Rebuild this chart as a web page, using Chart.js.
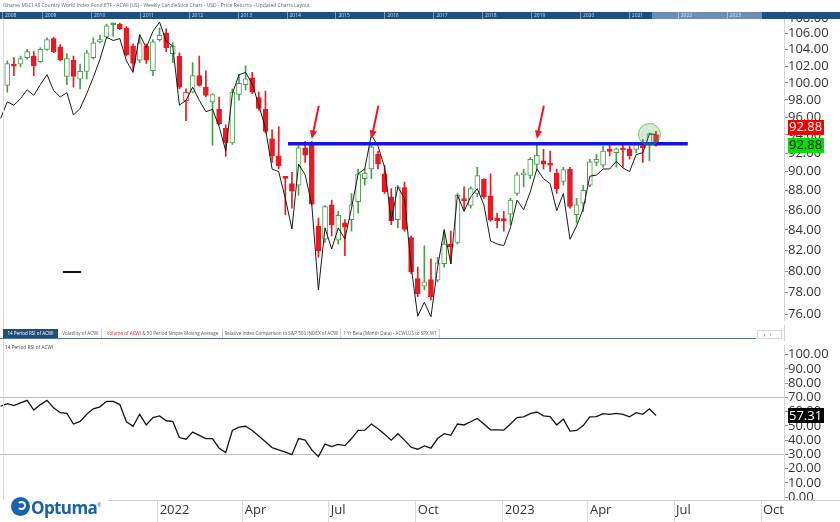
<!DOCTYPE html>
<html>
<head>
<meta charset="utf-8">
<script src="https://cdn.jsdelivr.net/npm/chart.js@4.4.0/dist/chart.umd.min.js"></script>
<style>
  body { margin: 0; background: #fff; font-family: "Open Sans", sans-serif; }
  #wrap { position: relative; width: 840px; height: 522px; overflow: hidden; background: #fff; }
  canvas { position: absolute; left: 0; }
  .abs { position: absolute; white-space: nowrap; }
  #title { left: 3px; top: 1px; font-size: 5px; line-height: 8px; color: #666; }
  #strip { left: 0; top: 12px; width: 840px; height: 7px; background: #1f4f80; }
  #strip .hl { position: absolute; left: 652px; top: 0; width: 110px; height: 7px; background: #6d8fb6; }
  #strip .yr { position: absolute; top: 0; height: 7px; font-size: 5px; line-height: 7px; color: #d5deea;
               border-left: 1px solid rgba(255,255,255,0.45); padding-left: 2px; }
  .tab { position: absolute; top: 329px; height: 9px; font-size: 4.6px; line-height: 9px; color: #555;
         text-align: center; border-right: 1px solid #d0d0d0; }
  .tab.active { background: #1f4e79; color: #fff; border-right: none; }
  #tabline { left: 0; top: 338px; width: 756px; height: 1px; background: #4f75a0; }
  #rsiTitle { left: 5px; top: 344px; font-size: 4.8px; line-height: 6px; color: #444; }
  #nav { left: 757px; top: 330px; width: 25px; height: 9px; border: 1px solid #d8d8d8; box-sizing: border-box;
         font-size: 7px; line-height: 7px; color: #777; text-align: center; letter-spacing: 4px; }
  #logo { left: 0; top: 500px; width: 108px; height: 22px; background: #fff; }
  #logo .icon { position: absolute; left: 11px; top: -3px; width: 19px; height: 19px; border-radius: 50%; background: #1a62ad; }
  #logo .icon::after { content: ""; position: absolute; left: 6px; top: 4px; width: 9px; height: 9px; border-radius: 50%;
                       border: 2.5px solid #fff; border-left-color: transparent; box-sizing: border-box; }
  #logo .txt { position: absolute; left: 31px; top: -4px; font-size: 17px; font-weight: 700; color: #1a62ad; letter-spacing: -0.6px; }
  #logo .txt sup { font-size: 5px; font-weight: 400; }
  #dash { left: 63px; top: 271px; width: 18px; height: 2px; background: #111; }
  #leftline { left: 3px; top: 20px; width: 1px; height: 480px; background: #dcdcdc; }
  #axisgap { left: 784px; top: 325px; width: 1px; height: 16px; background: #d4d4d4; }
</style>
</head>
<body>
<div id="wrap">
  <canvas id="price" width="840" height="328" style="top:0"></canvas>
  <canvas id="rsi" width="840" height="184" style="top:338px"></canvas>

  <div id="leftline" class="abs"></div>
  <div id="axisgap" class="abs"></div>
  <div id="title" class="abs">iShares MSCI All Country World Index Fund ETF - ACWI (US) - Weekly CandleStick Chart - USD - Price Returns - Updated Charts Layout</div>
  <div id="strip" class="abs"><div class="hl"></div></div>
  <div id="dash" class="abs"></div>

  <div class="tab active" style="left:3px;width:55px">14 Period RSI of ACWI</div>
  <div class="tab" style="left:60px;width:41px">Volatility of ACWI</div>
  <div class="tab" style="left:103px;width:119px"><span style="color:#e0202a">Volume of ACWI</span> &amp; 50 Period Simple Moving Average</div>
  <div class="tab" style="left:223px;width:117px">Relative Index Comparison to S&amp;P 500 INDEX of ACWI</div>
  <div class="tab" style="left:341px;width:98px">1 Yr Beta (Month Data) - ACWI.US to SPX.W1</div>
  <div id="tabline" class="abs"></div>
  <div id="nav" class="abs">‹›</div>
  <div id="rsiTitle" class="abs">14 Period RSI of ACWI</div>

  <div id="logo" class="abs"><div class="icon"></div><div class="txt">Optuma<sup>®</sup></div></div>
</div>

<script>
// weekly candles, first bar = week of 26 Jul 2021
const weekOne = '2021-07-26';

const opens = [99.68, 102.07, 102.23, 103.03, 103.23, 102.55, 104.04, 105.38, 104.36, 100.77,
  102.71, 100.42, 101.36, 103.03, 104.97, 105.59, 107.30, 107.20, 106.70, 104.44,
  102.71, 104.44, 101.44, 105.26, 106.08, 103.51, 103.23, 97.88, 98.91, 100.85,
  99.48, 97.76, 96.90, 94.76, 93.13, 98.64, 99.79, 100.58, 98.26, 96.90,
  93.56, 91.70, 89.36, 88.73, 88.56, 92.59, 92.95, 84.37, 83.07, 86.52,
  82.97, 84.70, 85.03, 86.86, 89.25, 90.29, 91.88, 89.77, 87.36, 85.03,
  88.32, 83.23, 79.29, 78.58, 79.20, 79.13, 80.69, 82.59, 82.75, 87.09,
  86.46, 87.70, 89.18, 87.46, 85.19, 85.12, 85.59, 87.70, 89.66, 89.59,
  90.78, 91.17, 90.92, 89.84, 88.97, 90.29, 85.52, 86.69, 88.56, 90.99,
  90.71, 92.45, 92.05, 92.48, 92.48, 92.41, 92.84, 92.95, 94.04];
const highs = [102.63, 103.03, 103.23, 104.04, 103.76, 104.24, 105.47, 105.55, 104.65, 103.51,
  103.23, 102.23, 103.92, 105.47, 105.79, 107.20, 107.37, 107.33, 106.90, 104.73,
  105.88, 104.73, 105.26, 106.70, 106.62, 104.85, 103.63, 99.29, 102.43, 103.23,
  101.44, 98.72, 98.33, 95.13, 99.29, 101.05, 102.03, 101.24, 98.91, 99.02,
  94.58, 94.95, 89.42, 89.94, 92.84, 93.31, 93.31, 85.19, 86.45, 87.02,
  85.86, 85.03, 87.70, 90.29, 90.29, 92.95, 92.23, 90.64, 88.21, 88.56,
  88.90, 83.39, 80.37, 82.43, 81.16, 81.32, 83.88, 83.88, 87.70, 88.39,
  88.39, 90.47, 89.25, 89.77, 85.69, 85.86, 87.19, 89.94, 90.29, 91.52,
  92.95, 92.41, 92.23, 90.29, 90.47, 90.47, 87.19, 88.56, 91.34, 91.88,
  92.77, 92.95, 92.59, 92.95, 92.77, 93.13, 93.49, 94.22, 94.40];
const lows = [98.91, 100.85, 101.91, 102.83, 100.85, 102.45, 103.92, 103.63, 102.63, 99.79,
  99.48, 99.29, 100.46, 102.83, 104.85, 105.38, 105.67, 106.50, 103.23, 101.44,
  102.43, 102.31, 100.85, 105.05, 103.76, 102.43, 99.29, 95.62, 98.80, 99.60,
  98.33, 92.84, 95.13, 91.63, 92.95, 97.95, 99.17, 98.72, 96.82, 94.22,
  90.99, 90.29, 85.52, 86.19, 87.53, 90.99, 86.50, 81.32, 82.75, 83.39,
  82.59, 81.48, 83.88, 85.69, 88.56, 89.25, 90.29, 87.70, 84.53, 84.20,
  83.88, 79.75, 77.61, 78.22, 77.31, 78.98, 80.37, 80.69, 82.59, 86.02,
  86.19, 87.36, 87.19, 84.86, 84.20, 83.88, 84.53, 87.53, 88.39, 89.25,
  90.29, 90.29, 90.01, 87.70, 88.56, 86.19, 84.70, 85.86, 88.39, 90.64,
  90.47, 91.70, 90.47, 90.47, 91.34, 92.05, 90.99, 91.17, 92.77];
const closes = [102.31, 101.99, 102.91, 103.76, 102.03, 104.04, 105.26, 103.76, 102.75, 102.91,
  100.77, 101.36, 103.63, 104.85, 105.26, 106.99, 107.12, 106.62, 103.35, 102.31,
  104.85, 102.71, 104.97, 105.79, 104.24, 104.44, 99.48, 98.91, 100.85, 99.68,
  98.52, 98.60, 95.25, 93.13, 98.91, 99.95, 100.46, 98.91, 97.01, 94.40,
  91.70, 90.64, 89.28, 87.94, 92.59, 91.77, 86.59, 81.95, 86.36, 84.53,
  85.46, 84.27, 86.52, 89.77, 89.85, 92.70, 90.81, 87.87, 84.93, 88.39,
  84.04, 79.91, 77.85, 78.98, 77.61, 80.78, 82.59, 82.33, 87.53, 86.96,
  88.21, 89.59, 87.36, 84.96, 84.93, 84.88, 87.02, 89.66, 89.77, 91.34,
  91.77, 90.81, 90.71, 88.21, 90.22, 86.36, 86.52, 88.04, 91.06, 91.34,
  92.23, 92.18, 92.48, 92.34, 91.70, 92.95, 92.59, 94.15, 92.88];

// black overlay line, from bar 0 (left edge) to the last bar
const overlay = [95.87, 97.76, 97.38, 98.14, 99.17, 98.52, 99.79, 100.97, 99.10, 98.33,
  98.83, 96.25, 97.01, 98.72, 100.65, 102.83, 105.55, 105.14, 105.38, 102.63,
  101.24, 105.88, 104.24, 106.29, 107.46, 105.06, 104.44, 97.38, 97.95, 99.48,
  97.95, 96.63, 96.90, 94.95, 92.23, 98.72, 100.97, 101.24, 99.87, 97.38,
  94.76, 90.29, 90.01, 87.19, 84.09, 90.81, 89.66, 86.52, 78.22, 84.20,
  82.12, 84.20, 83.09, 86.19, 89.77, 90.29, 94.04, 92.77, 90.47, 84.93,
  88.39, 87.19, 80.47, 75.82, 77.10, 75.77, 80.37, 84.04, 80.69, 87.53,
  85.86, 87.36, 88.21, 86.52, 82.91, 82.60, 82.44, 84.20, 87.02, 86.02,
  87.87, 90.29, 89.25, 88.73, 85.93, 87.70, 83.07, 84.39, 86.12, 89.52,
  89.63, 90.29, 90.29, 91.11, 90.40, 90.01, 91.84, 92.05, 94.11, 94.08];

// 14 period RSI, same bars as overlay
const rsi = [63.86, 65.68, 64.32, 66.13, 67.95, 61.13, 65.0, 67.95, 62.72, 59.32,
  58.86, 51.36, 53.18, 58.18, 62.04, 63.41, 67.27, 67.27, 65.0, 52.95,
  49.77, 58.18, 50.68, 55.91, 57.05, 53.63, 53.18, 41.82, 40.68, 45.68,
  43.41, 41.13, 41.13, 34.32, 31.36, 46.82, 49.09, 49.77, 46.82, 42.95,
  38.86, 34.77, 33.18, 31.59, 29.77, 41.13, 40.0, 33.18, 28.41, 37.27,
  35.45, 37.04, 36.13, 41.13, 46.82, 47.05, 51.36, 47.95, 44.09, 40.0,
  44.54, 40.0, 35.0, 33.63, 35.91, 34.32, 41.13, 44.54, 43.41, 51.36,
  50.68, 52.95, 55.22, 51.36, 47.27, 47.27, 47.05, 51.36, 55.91, 56.36,
  58.63, 59.77, 57.05, 56.59, 50.68, 54.77, 46.36, 46.82, 50.22, 56.36,
  56.59, 58.63, 58.18, 58.86, 58.18, 56.36, 59.32, 58.18, 62.04, 57.31];

const quarterDates = ['2022-01-01', '2022-04-01', '2022-07-01', '2022-10-01', '2023-01-01', '2023-04-01', '2023-07-01', '2023-10-01'];
const quarterLabels = ['2022', 'Apr', 'Jul', 'Oct', '2023', 'Apr', 'Jul', 'Oct'];
const priceTicks = [76, 78, 80, 82, 84, 86, 88, 90, 92, 94, 96, 98, 100, 102, 104, 106, 108];
const rsiTicks = [0, 10, 20, 30, 40, 50, 60, 70, 80, 90, 100];
const navYears = ['2008', '2009', '2010', '2011', '2012', '2013', '2014', '2015', '2016', '2017', '2018', '2019', '2020', '2021', '2022', '2023'];

// drawn resistance line and the bars the arrows point at
const resistance = 93.03;
const resistanceFrom = 43.4, resistanceTo = 103.8;
const arrowBars = [47, 56, 81];
const lastPriceLabel = '92.88';

const GREEN = '#4b9d4b', RED = '#ea1a22';
const FONT = '"Open Sans", sans-serif';
const xMin = -0.1, xMax = 118.33;

function weekIndex(s) {
  const [y, m, d] = s.split('-').map(Number);
  const [y0, m0, d0] = weekOne.split('-').map(Number);
  return 1 + (Date.UTC(y, m - 1, d) - Date.UTC(y0, m0 - 1, d0)) / (7 * 864e5);
}

// navigator strip year labels
const strip = document.getElementById('strip');
navYears.forEach((yr, k) => {
  const el = document.createElement('span');
  el.className = 'yr';
  el.style.left = (k === 0 ? 2 : 42 + (k - 1) * 48.9) + 'px';
  el.textContent = yr;
  strip.appendChild(el);
});

// candle colours: hollow when close > open, green when close > previous close
const bodyFill = [], bodyEdge = [], wickColor = [];
closes.forEach((c, i) => {
  const prev = i ? closes[i - 1] : opens[i];
  const col = c >= prev ? GREEN : RED;
  bodyFill.push(c >= opens[i] ? '#ffffff' : col);
  bodyEdge.push(col);
  wickColor.push(col);
});

function drawArrow(ctx, x0, y0, x1, y1) {
  const a = Math.atan2(y1 - y0, x1 - x0), h = 9;
  ctx.strokeStyle = RED; ctx.fillStyle = RED; ctx.lineWidth = 2;
  ctx.beginPath();
  ctx.moveTo(x0, y0);
  ctx.lineTo(x1 - h * 0.8 * Math.cos(a), y1 - h * 0.8 * Math.sin(a));
  ctx.stroke();
  ctx.beginPath();
  ctx.moveTo(x1, y1);
  ctx.lineTo(x1 - h * Math.cos(a - 0.42), y1 - h * Math.sin(a - 0.42));
  ctx.lineTo(x1 - h * Math.cos(a + 0.42), y1 - h * Math.sin(a + 0.42));
  ctx.closePath();
  ctx.fill();
}

function drawTag(ctx, x, yc, bg, fg, text) {
  ctx.fillStyle = bg;
  ctx.fillRect(x, Math.round(yc - 7.5), 36, 15);
  ctx.fillStyle = fg;
  ctx.font = '13px ' + FONT;
  ctx.textBaseline = 'middle';
  ctx.textAlign = 'left';
  ctx.fillText(text, x + 1, yc + 0.5);
}

const priceMarks = {
  id: 'priceMarks',
  afterDatasetsDraw(chart) {
    const { ctx, scales: { x, y } } = chart;
    ctx.save();
    const n = closes.length;
    const cx = x.getPixelForValue(n - 1);
    const cy = y.getPixelForValue(Math.max(highs[n - 2], highs[n - 1])) + 3;
    ctx.beginPath();
    ctx.arc(cx, cy, 11, 0, Math.PI * 2);
    ctx.fillStyle = 'rgba(80,175,80,0.25)';
    ctx.fill();
    ctx.strokeStyle = 'rgba(60,150,60,0.6)';
    ctx.lineWidth = 1;
    ctx.stroke();
    const tipY = y.getPixelForValue(resistance) - 5;
    arrowBars.forEach(b => {
      const tx = x.getPixelForValue(b);
      drawArrow(ctx, tx + 7, tipY - 33, tx, tipY);
    });
    ctx.restore();
  },
  afterDraw(chart) {
    const { ctx, scales: { x, y } } = chart;
    ctx.save();
    const gy = y.getPixelForValue(closes[closes.length - 1]);
    drawTag(ctx, x.right + 4, gy, '#00e000', '#111', lastPriceLabel);
    drawTag(ctx, x.right + 4, gy - 18, '#f20000', '#fff', lastPriceLabel);
    ctx.restore();
  }
};

const rsiMarks = {
  id: 'rsiMarks',
  afterDraw(chart) {
    const { ctx, scales: { x, y } } = chart;
    ctx.save();
    // label strip at the bottom right hides the lower half of 0.00
    ctx.fillStyle = '#fff';
    ctx.fillRect(x.right + 1, x.top + 1, 60, 30);
    ctx.strokeStyle = '#cfcfcf';
    ctx.lineWidth = 1;
    ctx.beginPath();
    ctx.moveTo(x.right, x.top + 0.5);
    ctx.lineTo(840, x.top + 0.5);
    ctx.stroke();
    const v = rsi[rsi.length - 1];
    drawTag(ctx, x.right + 4, y.getPixelForValue(v), '#000', '#fff', v.toFixed(2));
    ctx.restore();
  }
};

const tickFont = { family: FONT, size: 13 };

new Chart(document.getElementById('price'), {
  type: 'bar',
  data: {
    datasets: [
      {
        type: 'line',
        data: [{ x: resistanceFrom, y: resistance }, { x: resistanceTo, y: resistance }],
        borderColor: '#1414e6', borderWidth: 3.5, pointRadius: 0, order: 0
      },
      {
        type: 'line',
        data: overlay.map((v, i) => ({ x: i, y: v })),
        borderColor: '#1a1a1a', borderWidth: 1, pointRadius: 0, tension: 0, order: 1
      },
      {
        data: opens.map((o, i) => ({ x: i + 1, y: [o, closes[i]] })),
        backgroundColor: bodyFill, borderColor: bodyEdge, borderWidth: 1, borderSkipped: false,
        barThickness: 5, minBarLength: 2, grouped: false, order: 2
      },
      {
        data: lows.map((l, i) => ({ x: i + 1, y: [l, highs[i]] })),
        backgroundColor: wickColor, borderWidth: 0, barThickness: 1, grouped: false, order: 3
      }
    ]
  },
  options: {
    responsive: false,
    animation: false,
    layout: { padding: { top: 11, bottom: 3, left: 0, right: 0 } },
    plugins: { legend: { display: false }, tooltip: { enabled: false } },
    scales: {
      x: { type: 'linear', display: false, min: xMin, max: xMax, offset: false },
      y: {
        type: 'logarithmic', position: 'right', min: 75.47, max: 108.885, beginAtZero: false,
        afterBuildTicks: s => { s.ticks = priceTicks.map(v => ({ value: v })); },
        afterFit: s => { s.width = 56; },
        grid: { drawOnChartArea: false, tickLength: 4, tickColor: '#8a8a8a' },
        border: { display: true, color: '#d4d4d4' },
        ticks: { autoSkip: false, padding: 0, color: '#333', font: tickFont, callback: v => Number(v).toFixed(2) }
      }
    }
  },
  plugins: [priceMarks]
});

new Chart(document.getElementById('rsi'), {
  type: 'line',
  data: {
    datasets: [{
      data: rsi.map((v, i) => ({ x: i, y: v })),
      borderColor: '#141414', borderWidth: 1.3, pointRadius: 0, tension: 0
    }]
  },
  options: {
    responsive: false,
    animation: false,
    layout: { padding: { top: 3, bottom: 0, left: 0, right: 0 } },
    plugins: { legend: { display: false }, tooltip: { enabled: false } },
    scales: {
      x: {
        type: 'linear', position: 'bottom', min: xMin, max: xMax,
        afterBuildTicks: s => { s.ticks = quarterDates.map(d => ({ value: weekIndex(d) })); },
        afterFit: s => { s.height = 22; },
        grid: { drawOnChartArea: false, drawTicks: true, tickLength: 22, tickColor: '#dadada' },
        border: { display: true, color: '#cfcfcf' },
        ticks: {
          autoSkip: false, maxRotation: 0, align: 'start', labelOffset: 2, padding: -20,
          color: '#333', font: tickFont, callback: (v, i) => quarterLabels[i]
        }
      },
      y: {
        position: 'right', min: -2.05, max: 106.3,
        afterBuildTicks: s => { s.ticks = rsiTicks.map(v => ({ value: v })); },
        afterFit: s => { s.width = 56; },
        grid: {
          color: c => (c.tick && (c.tick.value === 70 || c.tick.value === 30)) ? '#bcbcbc' : 'rgba(0,0,0,0)',
          tickColor: '#8a8a8a', tickLength: 4
        },
        border: { display: true, color: '#d4d4d4' },
        ticks: { autoSkip: false, padding: 0, color: '#333', font: tickFont, callback: v => Number(v).toFixed(2) }
      }
    }
  },
  plugins: [rsiMarks]
});
</script>
</body>
</html>
